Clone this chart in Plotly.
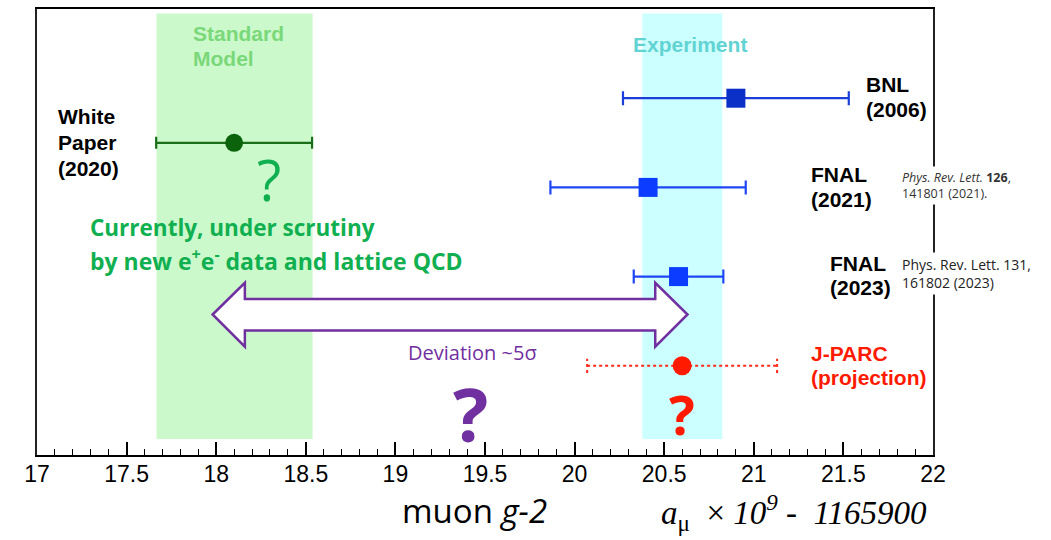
import plotly.graph_objects as go

# ---------------- data ----------------
exp_labels = ["BNL (2006)", "FNAL (2021)", "FNAL (2023)"]
exp_values = [20.90, 20.41, 20.58]
exp_errors = [0.63, 0.545, 0.25]
exp_rows = [0.80, 0.60, 0.40]
exp_marker_colors = ["#0b30c8", "#0b3cff", "#0b3cff"]
exp_error_colors = ["#1a3fd8", "#1e46f5", "#1e46f5"]

wp_value = [18.10]
wp_error = [0.435]
wp_row = [0.70]

jparc_value = [20.60]
jparc_error = [0.53]
jparc_row = [0.20]

sm_band = [17.667, 18.538]
exp_band = [20.378, 20.824]
band_rows = [0.036, 0.99]

x_range = [17, 22]
x_major = [17, 17.5, 18, 18.5, 19, 19.5, 20, 20.5, 21, 21.5, 22]
x_major_text = ["17", "17.5", "18", "18.5", "19", "19.5", "20", "20.5", "21", "21.5", "22"]

deviation_arrow = [17.98, 18.16, 20.45, 20.63]  # left tip, left head base, right head base, right tip
arrow_rows = [0.315, 0.386, 0.350, 0.279, 0.243]  # centre, head top, shaft top, shaft bottom, head bottom

fig = go.Figure()

# bands
fig.add_shape(type="rect", xref="x", yref="y", x0=sm_band[0], x1=sm_band[1],
              y0=band_rows[0], y1=band_rows[1], fillcolor="#ccf9cc", line_width=0, layer="below")
fig.add_shape(type="rect", xref="x", yref="y", x0=exp_band[0], x1=exp_band[1],
              y0=band_rows[0], y1=band_rows[1], fillcolor="#ccffff", line_width=0, layer="below")

# experimental points
for lab, v, e, r, mc, ec in zip(exp_labels, exp_values, exp_errors, exp_rows,
                                exp_marker_colors, exp_error_colors):
    fig.add_trace(go.Scatter(
        x=[v], y=[r], mode="markers", name=lab,
        marker=dict(symbol="square", size=19, color=mc),
        error_x=dict(type="data", array=[e], color=ec, thickness=2.2, width=7),
        showlegend=False))

# white paper
fig.add_trace(go.Scatter(
    x=wp_value, y=wp_row, mode="markers", name="White Paper",
    marker=dict(symbol="circle", size=18, color="#0b640b"),
    error_x=dict(type="data", array=wp_error, color="#1a6e1a", thickness=2.2, width=6),
    showlegend=False))

# J-PARC projection (dotted error bar)
lo = jparc_value[0] - jparc_error[0]
hi = jparc_value[0] + jparc_error[0]
r = jparc_row[0]
cap = 0.016
fig.add_trace(go.Scatter(
    x=[lo, hi, None, lo, lo, None, hi, hi],
    y=[r, r, None, r - cap, r + cap, None, r - cap, r + cap],
    mode="lines", line=dict(color="#ff2a1a", width=2, dash="dot"),
    hoverinfo="skip", showlegend=False))
fig.add_trace(go.Scatter(
    x=jparc_value, y=jparc_row, mode="markers", name="J-PARC",
    marker=dict(symbol="circle", size=19, color="#ff1a00"), showlegend=False))

# deviation double arrow
a0, a1, a2, a3 = deviation_arrow
yc, ht, st, sb, hb = arrow_rows
path = (f"M {a0},{yc} L {a1},{ht} L {a1},{st} L {a2},{st} L {a2},{ht} L {a3},{yc} "
        f"L {a2},{hb} L {a2},{sb} L {a1},{sb} L {a1},{hb} Z")
fig.add_shape(type="path", xref="x", yref="y", path=path,
              fillcolor="white", line=dict(color="#7030a0", width=2.5))

ARIAL = "Liberation Sans, Arial, sans-serif"
OPEN = "Open Sans, sans-serif"
SERIF = "Liberation Serif, Times New Roman, serif"


def note(text, x, y, size, color="black", family=ARIAL, xanchor="left", bg=None,
         yref="y"):
    fig.add_annotation(x=x, y=y, xref="x", yref=yref, text=text, showarrow=False,
                       xanchor=xanchor, yanchor="middle", align="left",
                       font=dict(size=size, color=color, family=family),
                       bgcolor=bg, borderpad=2)


note("<b>Standard</b>", 17.854, 0.944, 21, "#7ad87a")
note("<b>Model</b>", 17.854, 0.888, 21, "#7ad87a")
note("<b>Experiment</b>", 20.646, 0.920, 21, "#62d3d3", xanchor="center")

note("<b>White</b>", 17.099, 0.759, 21)
note("<b>Paper</b>", 17.099, 0.701, 21)
note("<b>(2020)</b>", 17.099, 0.643, 21)

note("?", 18.294, 0.618, 56, "#10b050", OPEN, xanchor="center")
note("<b>Currently, under scrutiny</b>", 17.278, 0.511, 22.5, "#10b050", OPEN)
note("<b>by new e<sup>+</sup>e<sup>-</sup> data and lattice QCD</b>", 17.278, 0.4375, 23,
     "#10b050", OPEN)

note("<b>BNL</b>", 21.612, 0.830, 21)
note("<b>(2006)</b>", 21.612, 0.775, 21)
note("<b>FNAL</b>", 21.305, 0.629, 21)
note("<b>(2021)</b>", 21.305, 0.574, 21)
note("<b>FNAL</b>", 21.41, 0.4286, 21)
note("<b>(2023)</b>", 21.41, 0.375, 21)

note("<i>Phys. Rev. Lett.</i> <b>126</b>,<br>141801 (2021).", 21.81, 0.604, 12.5,
     "#333333", OPEN, bg="white")
note("Phys. Rev. Lett. 131,<br>161802 (2023)", 21.81, 0.407, 14,
     "#222222", OPEN, bg="white")

note("Deviation ~5σ", 19.431, 0.230, 20, "#7030a0", OPEN, xanchor="center")
note("<b>J-PARC</b>", 21.305, 0.228, 21, "#ff1a00")
note("<b>(projection)</b>", 21.305, 0.174, 21, "#ff1a00")

note("<b>?</b>", 19.417, 0.092, 74, "#7030a0", OPEN, xanchor="center")
note("<b>?</b>", 20.60, 0.092, 54, "#ff1a00", OPEN, xanchor="center")

note("muon <i>g-2</i>", 19.44, -0.124, 33, "black", OPEN, xanchor="center", yref="paper")
note("<i>a</i><sub>μ</sub>\u00a0\u00a0×\u00a0<i>10<sup>9</sup>\u00a0-\u00a0\u00a01165900</i>",
     21.225, -0.130, 33, "black", SERIF, xanchor="center", yref="paper")

fig.update_xaxes(range=x_range, tickvals=x_major, ticktext=x_major_text,
                 ticks="inside", ticklen=13, tickwidth=1.5, tickcolor="black",
                 ticklabelstandoff=-3,
                 minor=dict(dtick=0.1, ticks="inside", ticklen=6, tickwidth=1.2, tickcolor="black"),
                 showline=True, linewidth=2, linecolor="black", mirror=True,
                 showgrid=False, zeroline=False,
                 tickfont=dict(family=ARIAL, size=23, color="black"))
fig.update_yaxes(range=[0, 1], showticklabels=False, ticks="", showline=True,
                 linewidth=1.5, linecolor="#222222", mirror=True,
                 showgrid=False, zeroline=False)

fig.update_layout(width=1051, height=540, autosize=False,
                  margin=dict(l=37, r=118, t=7, b=85),
                  plot_bgcolor="white", paper_bgcolor="white", showlegend=False)

fig.write_html("out.html")
